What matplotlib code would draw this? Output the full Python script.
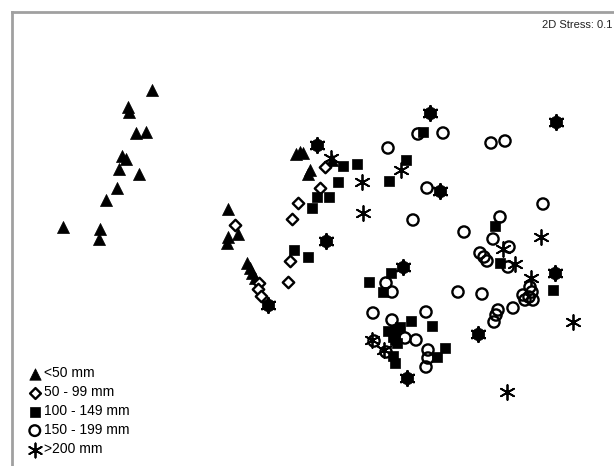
import matplotlib
matplotlib.use("Agg")
import matplotlib.pyplot as plt

plt.rcParams['font.family'] = ['Liberation Sans', 'DejaVu Sans']

# NMDS ordination coordinates (y grows downward)
tri_x = [152, 128, 129, 136, 146, 122, 126, 119, 139, 117, 106, 63, 100, 99,
         296, 300, 303, 308, 310, 332, 228, 238, 228, 227, 247, 250, 252, 255]
tri_y = [90, 107, 112, 133, 132, 156, 159, 169, 174, 188, 200, 227, 229, 239,
         154, 152, 153, 174, 170, 160, 209, 234, 237, 243, 263, 268, 273, 278]

dia_x = [325, 320, 298, 235, 292, 290, 288, 259, 258, 261]
dia_y = [167, 188, 203, 225, 219, 261, 282, 283, 289, 296]

sq_x = [343, 357, 338, 317, 329, 312, 294, 308, 423, 406, 389, 495, 500, 553,
        445, 437, 369, 391, 383, 411, 432, 388, 395, 400, 393, 397, 395, 393, 395]
sq_y = [166, 164, 182, 197, 197, 208, 250, 257, 132, 160, 181, 226, 263, 290,
        348, 357, 282, 273, 292, 321, 326, 331, 330, 327, 337, 343, 340, 356, 363]

cir_x = [373, 418, 443, 388, 427, 491, 505, 413, 543, 500, 464, 493, 509, 480,
         484, 487, 508, 530, 386, 392, 458, 482, 523, 525, 532, 533, 529, 513,
         498, 496, 494, 426, 392, 405, 416, 428, 428, 426, 374, 386]
cir_y = [313, 134, 133, 148, 188, 143, 141, 220, 204, 217, 232, 239, 247, 253,
         257, 261, 267, 287, 283, 292, 292, 294, 295, 300, 292, 300, 297, 308,
         310, 315, 322, 312, 320, 338, 340, 350, 358, 367, 341, 352]

star_x = [331, 362, 363, 401, 541, 503, 515, 531, 573, 507, 372, 384]
star_y = [158, 182, 213, 170, 237, 249, 264, 278, 322, 392, 340, 350]

fill_x = [317, 430, 556, 440, 326, 268, 403, 555, 478, 407]
fill_y = [145, 113, 122, 191, 241, 305, 267, 273, 334, 378]

labels = ['<50 mm', '50 - 99 mm', '100 - 149 mm', '150 - 199 mm', '>200 mm']
stress_text = '2D Stress: 0.1'

W, H = 614, 466
fig = plt.figure(figsize=(W / 100, H / 100), dpi=100)
ax = fig.add_axes([12 / W, 0, (W - 12) / W, (H - 12) / H])
ax.set_xlim(12, W)
ax.set_ylim(H, 12)
ax.set_xticks([])
ax.set_yticks([])
for s in ['right', 'bottom']:
    ax.spines[s].set_visible(False)
for s in ['left', 'top']:
    ax.spines[s].set_color('#a0a0a0')
    ax.spines[s].set_linewidth(2)

star_marker = (6, 2, 0)

ax.scatter(fill_x, fill_y, marker='o', s=80, c='black', edgecolors='black', linewidths=0.5, zorder=3)
ax.scatter(fill_x, fill_y, marker=star_marker, s=115, c='black', linewidths=1.6, zorder=3)
h1 = ax.scatter(tri_x, tri_y, marker='^', s=75, c='black', edgecolors='black', linewidths=0.5, label=labels[0], zorder=3)
h2 = ax.scatter(dia_x, dia_y, marker='D', s=34, facecolors='white', edgecolors='black', linewidths=1.7, label=labels[1], zorder=3)
h3 = ax.scatter(sq_x, sq_y, marker='s', s=55, c='black', edgecolors='black', linewidths=0.5, label=labels[2], zorder=3)
h4 = ax.scatter(cir_x, cir_y, marker='o', s=65, facecolors='none', edgecolors='black', linewidths=1.7, label=labels[3], zorder=3)
h5 = ax.scatter(star_x, star_y, marker=star_marker, s=115, c='black', linewidths=1.3, label=labels[4], zorder=3)

leg = ax.legend(handles=[h1, h2, h3, h4, h5], loc='lower left',
                bbox_to_anchor=(0.009, 0.0), frameon=False, fontsize=10,
                handletextpad=0.1, labelspacing=0.36, borderaxespad=0.3,
                handlelength=1.1, scatterpoints=1, markerscale=0.95)

ax.text(612, 25, stress_text, ha='right', va='center', fontsize=8, color='#222222')

fig.savefig('out.png', dpi=100)
